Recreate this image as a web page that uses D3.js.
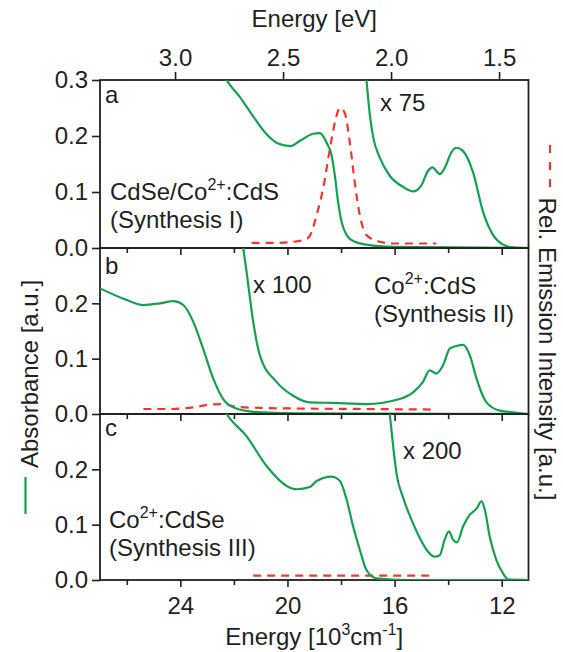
<!DOCTYPE html>
<html>
<head>
<meta charset="utf-8">
<script src="https://cdnjs.cloudflare.com/ajax/libs/d3/7.8.5/d3.min.js"></script>
<style>
body { margin: 0; background: #fff; }
text { font-family: "Liberation Sans", Arial, sans-serif; fill: #231f20; }
</style>
</head>
<body>
<div id="chart"></div>
<script>
// ---- data (energy in 10^3 cm^-1, absorbance) ----
var waveTicks = [24, 20, 16, 12];
var waveMinor = [26, 22, 18, 14];
var evTicks = [3.0, 2.5, 2.0, 1.5];
var evPerKcm = 0.12398;
var absTicksA = [0, 0.1, 0.2, 0.3];
var absTicks = [0, 0.1, 0.2];
var panelNames = ["a", "b", "c"];
var scaleLabels = ["x 75", "x 100", "x 200"];

var absA = [[22.6,0.335],[22.27,0.30],[21.78,0.27],[21.28,0.235],[20.78,0.203],[20.41,0.188],[19.91,0.182],
  [19.54,0.191],[19.04,0.204],[18.79,0.205],[18.54,0.188],[18.35,0.165],[18.23,0.129],[18.11,0.082],
  [17.98,0.047],[17.79,0.023],[17.49,0.011],[17.05,0.006],[16.0,0.002],[11.0,0.0]];
var absA75 = [[17.12,0.34],[17.05,0.30],[16.93,0.24],[16.80,0.198],[16.55,0.161],[16.18,0.129],[15.68,0.109],
  [15.31,0.101],[15.0,0.112],[14.75,0.138],[14.59,0.144],[14.31,0.132],[14.06,0.15],[13.94,0.165],
  [13.69,0.179],[13.44,0.173],[13.07,0.135],[12.70,0.065],[12.32,0.023],[11.95,0.006],[11.58,0.001],[11.0,0.0]];
var emA = [[21.34,0.009],[20.5,0.009],[19.79,0.011],[19.29,0.016],[19.16,0.022],[18.91,0.059],[18.67,0.106],
  [18.42,0.176],[18.23,0.224],[18.04,0.25],[17.86,0.241],[17.67,0.188],[17.49,0.118],[17.30,0.059],
  [17.05,0.023],[16.55,0.011],[16.06,0.008],[14.44,0.008]];

var absB = [[27.0,0.227],[26.0,0.206],[25.38,0.197],[24.76,0.2],[24.26,0.204],[23.89,0.197],[23.52,0.167],
  [23.15,0.118],[22.77,0.064],[22.40,0.027],[22.03,0.012],[21.28,0.004],[19.0,0.001],[11.0,0.0]];
var absB100 = [[21.7,0.32],[21.65,0.30],[21.53,0.258],[21.28,0.167],[21.03,0.106],[20.41,0.058],[19.79,0.033],
  [19.16,0.021],[18.29,0.02],[17.05,0.018],[15.81,0.027],[15.31,0.039],[14.94,0.058],[14.69,0.079],
  [14.44,0.073],[14.19,0.088],[13.94,0.118],[13.69,0.123],[13.44,0.125],[13.19,0.106],[12.94,0.064],
  [12.57,0.021],[12.07,0.006],[11.58,0.003],[11.0,0.0]];
var emB = [[25.38,0.009],[24.39,0.009],[23.52,0.012],[22.90,0.017],[22.40,0.018],[21.90,0.013],[21.03,0.011],
  [19.80,0.01],[17.05,0.009],[14.44,0.008]];

var absC = [[22.6,0.33],[22.27,0.30],[21.53,0.26],[20.78,0.206],[20.03,0.17],[19.66,0.164],[19.16,0.168],
  [18.91,0.179],[18.35,0.187],[18.04,0.179],[17.79,0.145],[17.55,0.097],[17.30,0.055],[17.05,0.018],
  [16.68,0.003],[15.5,0.0],[11.0,0.0]];
var absC200 = [[16.3,0.36],[16.18,0.30],[16.05,0.24],[15.92,0.19],[15.69,0.15],[15.37,0.109],[15.06,0.076],
  [14.75,0.051],[14.50,0.042],[14.31,0.045],[14.13,0.073],[13.97,0.088],[13.82,0.073],[13.67,0.068],
  [13.44,0.097],[13.19,0.118],[12.94,0.129],[12.76,0.142],[12.63,0.127],[12.45,0.079],[12.20,0.036],
  [11.95,0.012],[11.76,0.001],[11.0,0.0]];
var emC = [[21.28,0.008],[14.56,0.008]];

var panels = [
  {abs: absA, scaled: absA75, em: emA},
  {abs: absB, scaled: absB100, em: emB},
  {abs: absC, scaled: absC200, em: emC}
];

// ---- layout ----
var W = 563, H = 652;
var left = 100, right = 528.5;
var edges = [80, 248, 414, 580];
var green = "#12a24e", red = "#f2362c", ink = "#231f20";
var fs = 24, sup = 16;

var x = d3.scaleLinear().domain([27, 11]).range([left, right]);
var xTop = d3.scaleLinear().domain([27 * evPerKcm, 11 * evPerKcm]).range([left, right]);

var svg = d3.select("#chart").append("svg")
    .attr("width", W)
    .attr("height", H);

function styleAxis(g) {
  g.select(".domain").remove();
  g.selectAll(".tick line").attr("stroke", ink).attr("stroke-width", 1.6);
  g.selectAll(".tick text").attr("font-size", fs).attr("font-family", null).style("fill", ink);
}

panels.forEach(function(p, i) {
  var y0 = edges[i + 1], y1 = edges[i];
  var y = d3.scaleLinear().domain([0, 0.3]).range([y0, y1]);

  svg.append("clipPath").attr("id", "clip" + i)
    .append("rect")
      .attr("x", left).attr("y", y1)
      .attr("width", right - left).attr("height", y0 - y1);

  // y axis
  svg.append("g")
      .attr("transform", "translate(" + left + ",0)")
      .call(d3.axisLeft(y).tickValues(i == 0 ? absTicksA : absTicks)
        .tickFormat(d3.format(".1f")).tickSize(8).tickPadding(4))
      .call(styleAxis);

  // bottom ticks of each panel
  svg.append("g")
      .attr("transform", "translate(0," + y0 + ")")
      .call(d3.axisBottom(x).tickValues(waveMinor).tickSize(5).tickFormat(""))
      .call(styleAxis);
  svg.append("g")
      .attr("transform", "translate(0," + y0 + ")")
      .call(d3.axisBottom(x).tickValues(waveTicks).tickSize(7).tickPadding(10)
        .tickFormat(i == 2 ? d3.format("d") : ""))
      .call(styleAxis);

  svg.append("rect")
      .attr("x", left).attr("y", y1)
      .attr("width", right - left).attr("height", y0 - y1)
      .attr("fill", "none").attr("stroke", ink).attr("stroke-width", 1.8);

  var line = d3.line()
      .x(function(d) { return x(d[0]); })
      .y(function(d) { return y(d[1]); })
      .curve(d3.curveMonotoneX);

  var g = svg.append("g").attr("clip-path", "url(#clip" + i + ")");
  g.append("path").datum(p.em)
      .attr("d", line).attr("fill", "none")
      .attr("stroke", red).attr("stroke-width", 2.2).attr("stroke-dasharray", "8,6");
  g.append("path").datum(p.abs)
      .attr("d", line).attr("fill", "none")
      .attr("stroke", green).attr("stroke-width", 2.2);
  g.append("path").datum(p.scaled)
      .attr("d", line).attr("fill", "none")
      .attr("stroke", green).attr("stroke-width", 2.2);

  svg.append("text")
      .attr("x", 105).attr("y", [103, 274, 436][i])
      .attr("font-size", fs)
      .text(panelNames[i]);
});

// top eV axis
svg.append("g")
    .attr("transform", "translate(0," + edges[0] + ")")
    .call(d3.axisTop(xTop).tickValues(evTicks).tickSize(8).tickPadding(6)
      .tickFormat(d3.format(".1f")))
    .call(styleAxis);

svg.append("text")
    .attr("x", (left + right) / 2).attr("y", 27)
    .attr("text-anchor", "middle").attr("font-size", fs)
    .text("Energy [eV]");

var bt = svg.append("text")
    .attr("x", (left + right) / 2).attr("y", 645)
    .attr("text-anchor", "middle").attr("font-size", fs);
bt.append("tspan").text("Energy [10");
bt.append("tspan").attr("dy", -10).attr("font-size", sup).text("3");
bt.append("tspan").attr("dy", 10).text("cm");
bt.append("tspan").attr("dy", -10).attr("font-size", sup).text("-1");
bt.append("tspan").attr("dy", 10).text("]");

// sample labels
function sampleLabel(xp, yp, pre, post, second) {
  var t = svg.append("text").attr("x", xp).attr("y", yp).attr("font-size", fs);
  t.append("tspan").text(pre);
  t.append("tspan").attr("dy", -10).attr("font-size", sup).text("2+");
  t.append("tspan").attr("dy", 10).text(post);
  svg.append("text").attr("x", xp).attr("y", yp + 28).attr("font-size", fs).text(second);
}
sampleLabel(110, 200, "CdSe/Co", ":CdS", "(Synthesis I)");
sampleLabel(374, 294, "Co", ":CdS", "(Synthesis II)");
sampleLabel(109, 528, "Co", ":CdSe", "(Synthesis III)");

svg.append("text").attr("x", 380).attr("y", 111).attr("font-size", fs).text(scaleLabels[0]);
svg.append("text").attr("x", 253).attr("y", 293).attr("font-size", fs).text(scaleLabels[1]);
svg.append("text").attr("x", 403).attr("y", 459).attr("font-size", fs).text(scaleLabels[2]);

// side labels with legend keys
svg.append("text")
    .attr("transform", "translate(37.5,374) rotate(-90)")
    .attr("text-anchor", "middle").attr("font-size", fs)
    .text("Absorbance [a.u.]");
svg.append("line")
    .attr("x1", 25.5).attr("x2", 25.5).attr("y1", 477).attr("y2", 514)
    .attr("stroke", green).attr("stroke-width", 2.2);

svg.append("text")
    .attr("transform", "translate(539,349) rotate(90)")
    .attr("text-anchor", "middle").attr("font-size", fs)
    .text("Rel. Emission Intensity [a.u.]");
svg.append("line")
    .attr("x1", 550).attr("x2", 550).attr("y1", 145).attr("y2", 190)
    .attr("stroke", red).attr("stroke-width", 2.2).attr("stroke-dasharray", "8,9");
</script>
</body>
</html>
